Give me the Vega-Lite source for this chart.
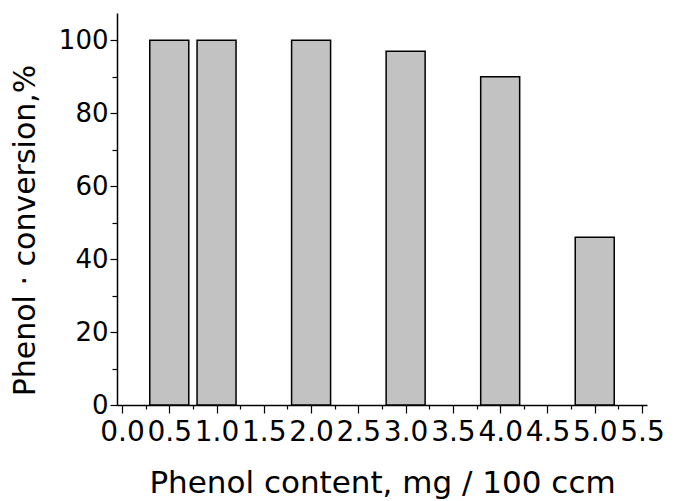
{
  "$schema": "https://vega.github.io/schema/vega-lite/v6.json",
  "autosize": "none",
  "padding": {"left": 117, "top": 13, "right": 31, "bottom": 96},
  "width": 530,
  "height": 392,
  "background": "white",
  "config": {
    "view": {"stroke": null},
    "font": "DejaVu Sans",
    "axis": {
      "domainColor": "black",
      "domainWidth": 1.5,
      "tickColor": "black",
      "tickWidth": 1.2,
      "labelColor": "black",
      "titleColor": "black",
      "labelFont": "DejaVu Sans",
      "titleFont": "DejaVu Sans",
      "labelFontWeight": "normal",
      "titleFontWeight": "normal",
      "grid": false,
      "labelOverlap": false,
      "labelFlush": false
    }
  },
  "data": {
    "values": [
      {"content": 0.5, "conversion": 100},
      {"content": 1.0, "conversion": 100},
      {"content": 2.0, "conversion": 100},
      {"content": 3.0, "conversion": 97},
      {"content": 4.0, "conversion": 90},
      {"content": 5.0, "conversion": 46}
    ]
  },
  "mark": {"type": "bar", "size": 39, "fill": "#c2c2c2", "stroke": "black", "strokeWidth": 1.5},
  "encoding": {
    "x": {
      "field": "content",
      "type": "quantitative",
      "scale": {"domain": [0, 5.5], "nice": false, "zero": false},
      "axis": {
        "title": "Phenol content, mg / 100 ccm",
        "values": [0, 0.25, 0.5, 0.75, 1, 1.25, 1.5, 1.75, 2, 2.25, 2.5, 2.75, 3, 3.25, 3.5, 3.75, 4, 4.25, 4.5, 4.75, 5, 5.25, 5.5],
        "labelExpr": "datum.value % 0.5 === 0 ? format(datum.value, '.1f') : ''",
        "tickSize": {"condition": {"test": "datum.value % 0.5 !== 0", "value": 4}, "value": 8},
        "labelFontSize": 28,
        "labelPadding": 5,
        "titleFontSize": 31,
        "titlePadding": 22
      }
    },
    "y": {
      "field": "conversion",
      "type": "quantitative",
      "scale": {"domain": [0, 107.5], "nice": false},
      "axis": {
        "title": "Phenol · conversion,%",
        "values": [0, 10, 20, 30, 40, 50, 60, 70, 80, 90, 100],
        "labelExpr": "datum.value % 20 === 0 ? format(datum.value, 'd') : ''",
        "tickSize": {"condition": {"test": "datum.value % 20 !== 0", "value": 5}, "value": 7},
        "labelFontSize": 26,
        "labelPadding": 2,
        "titleFontSize": 30,
        "titlePadding": 18,
        "titleY": 217
      }
    }
  }
}
